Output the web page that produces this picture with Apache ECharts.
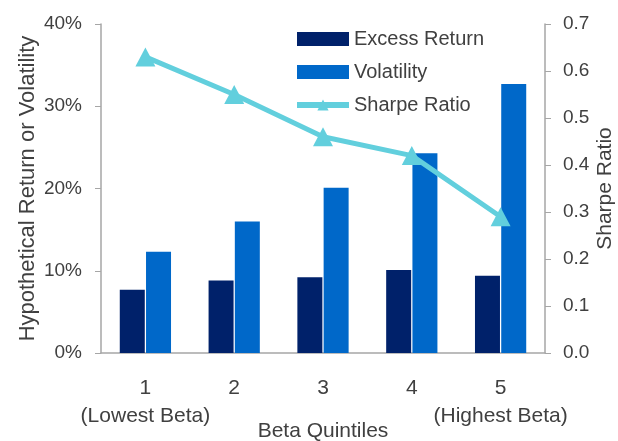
<!DOCTYPE html>
<html>
<head>
<meta charset="utf-8">
<script src="https://cdn.jsdelivr.net/npm/echarts@6/dist/echarts.min.js"></script>
<style>
  html, body { margin: 0; padding: 0; background: #ffffff; }
  #chart { width: 618px; height: 441px; }
</style>
</head>
<body>
<div id="chart"></div>
<script>
// Beta quintile categories (number + optional caption line)
const quintiles = ['1', '2', '3', '4', '5'];
const quintileNotes = ['(Lowest Beta)', '', '', '', '(Highest Beta)'];

// Annualised figures per quintile, in percent
const excessReturn = [7.7, 8.8, 9.2, 10.1, 9.4];
const volatility = [12.3, 16.0, 20.1, 24.3, 32.7];

// Sharpe ratio per quintile (right axis)
const sharpeRatio = [0.63, 0.55, 0.46, 0.42, 0.29];

const textColor = '#404040';
const axisGray = '#a6a6a6';
const lineColor = '#62cfdd';
const fontFamily = 'Liberation Sans, Arial, sans-serif';

const chart = echarts.init(document.getElementById('chart'), null, { renderer: 'canvas' });

chart.setOption({
  animation: false,
  textStyle: { fontFamily: fontFamily, color: textColor },
  grid: { left: 101, right: 73, top: 24, bottom: 88, containLabel: false, outerBoundsMode: 'none' },
  legend: {
    left: 289,
    top: 24,
    orient: 'vertical',
    itemWidth: 52,
    itemHeight: 14,
    itemGap: 13,
    textStyle: { fontSize: 20, color: textColor, fontFamily: fontFamily },
    data: [
      { name: 'Excess Return', icon: 'rect' },
      { name: 'Volatility', icon: 'rect' },
      { name: 'Sharpe Ratio', lineStyle: { width: 6, color: lineColor } }
    ]
  },
  xAxis: {
    type: 'category',
    data: quintiles.map((q, i) => quintileNotes[i] ? q + '\n' + quintileNotes[i] : q),
    name: 'Beta Quintiles',
    nameLocation: 'middle',
    nameGap: 68,
    nameMoveOverlap: false,
    nameTextStyle: { fontSize: 21, color: textColor, fontFamily: fontFamily },
    axisLine: { lineStyle: { color: axisGray, width: 1.5 } },
    axisTick: { show: false },
    axisLabel: { interval: 0, fontSize: 21, color: textColor, margin: 21, lineHeight: 28, fontFamily: fontFamily }
  },
  yAxis: [
    {
      type: 'value',
      min: 0,
      max: 40,
      interval: 10,
      name: 'Hypothetical Return or Volatility',
      nameLocation: 'middle',
      nameGap: 62,
      nameMoveOverlap: false,
      nameTextStyle: { fontSize: 22, color: textColor, fontFamily: fontFamily },
      splitLine: { show: false },
      axisLine: { show: true, lineStyle: { color: axisGray, width: 1.5 } },
      axisTick: { show: true, length: 6, lineStyle: { color: axisGray } },
      axisLabel: { fontSize: 19, color: textColor, margin: 19, formatter: '{value}%', fontFamily: fontFamily }
    },
    {
      type: 'value',
      min: 0,
      max: 0.7,
      interval: 0.1,
      name: 'Sharpe Ratio',
      nameLocation: 'middle',
      nameGap: 50,
      nameRotate: 90,
      nameMoveOverlap: false,
      nameTextStyle: { fontSize: 21, color: textColor, fontFamily: fontFamily },
      splitLine: { show: false },
      axisLine: { show: true, lineStyle: { color: axisGray, width: 1.5 } },
      axisTick: { show: true, length: 6, lineStyle: { color: axisGray } },
      axisLabel: { fontSize: 19, color: textColor, margin: 18, formatter: (v) => v.toFixed(1), fontFamily: fontFamily }
    }
  ],
  series: [
    {
      name: 'Excess Return',
      type: 'bar',
      yAxisIndex: 0,
      barWidth: 25,
      barGap: '5%',
      itemStyle: { color: '#00216a' },
      data: excessReturn
    },
    {
      name: 'Volatility',
      type: 'bar',
      yAxisIndex: 0,
      barWidth: 25,
      barGap: '5%',
      itemStyle: { color: '#0068c9' },
      data: volatility
    },
    {
      name: 'Sharpe Ratio',
      type: 'line',
      yAxisIndex: 1,
      symbol: 'triangle',
      symbolSize: [20, 19],
      lineStyle: { color: lineColor, width: 5 },
      itemStyle: { color: lineColor },
      data: sharpeRatio,
      z: 5
    }
  ]
});
</script>
</body>
</html>
